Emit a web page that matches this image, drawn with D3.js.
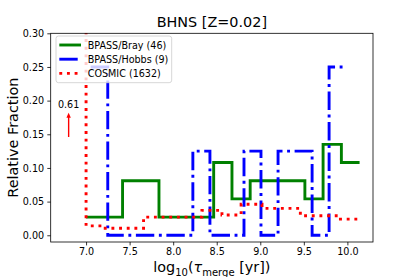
<!DOCTYPE html>
<html><head><meta charset="utf-8">
<script src="https://cdn.jsdelivr.net/npm/d3@7"></script>
<style>body{margin:0;background:#fff}svg{display:block}text{font-family:"DejaVu Sans",sans-serif;fill:#000}</style>
</head><body><svg id="c" width="415" height="277"></svg>
<script>
// ---- data ----
const brayEdges = [7.0, 7.209, 7.419, 7.628, 7.837, 8.047, 8.256, 8.465, 8.675, 8.884, 9.093, 9.303, 9.512, 9.721, 9.931, 10.14];
const brayValues = [0.027, 0.027, 0.081, 0.081, 0.027, 0.027, 0.027, 0.108, 0.054, 0.081, 0.081, 0.081, 0.054, 0.135, 0.108];
const hobbsEdges = [7.053, 7.249, 8.226, 8.422, 8.813, 9.008, 9.204, 9.595, 9.790, 9.986];
const hobbsValues = [0.25, 0.0, 0.125, 0.0, 0.125, 0.0, 0.125, 0.0, 0.25];
const cosmicEdges = [7.0, 7.0, 7.2, 7.66, 8.33, 8.56, 8.78, 9.02, 9.46, 9.92, 10.14];
const cosmicValues = [0.61, 0.014, 0.0105, 0.027, 0.037, 0.030, 0.046, 0.040, 0.029, 0.024];
const seriesNames = ["BPASS/Bray (46)", "BPASS/Hobbs (9)", "COSMIC (1632)"];
const xTicks = [7.0, 7.5, 8.0, 8.5, 9.0, 9.5, 10.0];
const yTicks = [0.00, 0.05, 0.10, 0.15, 0.20, 0.25, 0.30];
const annotation = {x: 6.8, yTail: 0.146, yTip: 0.182, yText: 0.189, label: "0.61"};
const title = "BHNS [Z=0.02]";

// ---- layout ----
const L = 50.7, R = 373, T = 33.3, B = 242;
const svg = d3.select("#c");
const x = d3.scaleLinear().domain([6.594, 10.294]).range([L, R]);
const y = d3.scaleLinear().domain([-0.01, 0.30]).range([B, T]);

svg.append("defs").append("clipPath").attr("id", "clip")
  .append("rect").attr("x", L).attr("y", T).attr("width", R - L).attr("height", B - T);

function stepPoints(edges, values) {
  const pts = values.map((v, i) => [edges[i], v]);
  pts.push([edges[edges.length - 1], values[values.length - 1]]);
  return pts;
}
const line = d3.line().x(d => x(d[0])).y(d => y(d[1])).curve(d3.curveStepAfter);
const g = svg.append("g").attr("clip-path", "url(#clip)");

const styles = [
  {color: "#008000", dash: null},
  {color: "#0000ff", dash: "18.4,4.6,2.9,4.6"},
  {color: "#ff0000", dash: "2.9,4.76"}
];
g.append("path").attr("d", line(stepPoints(brayEdges, brayValues)))
  .attr("fill", "none").attr("stroke", styles[0].color).attr("stroke-width", 2.9);
g.append("path").attr("d", line(stepPoints(hobbsEdges, hobbsValues)))
  .attr("fill", "none").attr("stroke", styles[1].color).attr("stroke-width", 2.9)
  .attr("stroke-dasharray", styles[1].dash);
g.append("path").attr("d", line(stepPoints(cosmicEdges, cosmicValues)))
  .attr("fill", "none").attr("stroke", styles[2].color).attr("stroke-width", 2.9)
  .attr("stroke-dasharray", styles[2].dash);

// ---- axes ----
const xAxis = svg.append("g").attr("transform", `translate(0,${B})`)
  .call(d3.axisBottom(x).tickValues(xTicks).tickFormat(d3.format(".1f")).tickSize(3.4).tickPadding(3.2));
const yAxis = svg.append("g").attr("transform", `translate(${L},0)`)
  .call(d3.axisLeft(y).tickValues(yTicks).tickFormat(d3.format(".2f")).tickSize(3.4).tickPadding(3.2));
[xAxis, yAxis].forEach(a => {
  a.select(".domain").remove();
  a.selectAll("line").attr("stroke", "#000").attr("stroke-width", 0.8);
  a.selectAll("text").attr("font-size", 9.6).attr("font-family", "DejaVu Sans").attr("fill", "#000");
});
svg.append("rect").attr("x", L).attr("y", T).attr("width", R - L).attr("height", B - T)
  .attr("fill", "none").attr("stroke", "#000").attr("stroke-width", 0.8);

// title
svg.append("text").attr("x", (L + R) / 2).attr("y", 27.3).attr("text-anchor", "middle")
  .attr("font-size", 14.4).text(title);

// y label
svg.append("text").attr("transform", `translate(18,${(T + B) / 2}) rotate(-90)`)
  .attr("text-anchor", "middle").attr("font-size", 14.4).text("Relative Fraction");

// x label
const xl = svg.append("text").attr("x", (L + R) / 2).attr("y", 272.3).attr("text-anchor", "middle").attr("font-size", 14.4);
xl.append("tspan").text("log");
xl.append("tspan").attr("font-size", 10).attr("dy", 3.5).text("10");
xl.append("tspan").attr("dy", -3.5).text("(");
xl.append("tspan").attr("font-style", "italic").text("τ");
xl.append("tspan").attr("font-size", 10).attr("dy", 3.5).text("merge");
xl.append("tspan").attr("dy", -3.5).text(" [yr])");

// annotation arrow
const ax = x(annotation.x);
svg.append("line").attr("x1", ax).attr("x2", ax).attr("y1", y(annotation.yTail)).attr("y2", y(annotation.yTip) + 4)
  .attr("stroke", "#ff0000").attr("stroke-width", 1.4);
svg.append("path").attr("d", `M${ax},${y(annotation.yTip)} L${ax - 2.2},${y(annotation.yTip) + 5} L${ax + 2.2},${y(annotation.yTip) + 5} Z`)
  .attr("fill", "#ff0000");
svg.append("text").attr("x", ax).attr("y", y(annotation.yText)).attr("text-anchor", "middle")
  .attr("font-size", 9.6).text(annotation.label);

// legend
const lg = svg.append("g");
lg.append("rect").attr("x", 56).attr("y", 36).attr("width", 115.7).attr("height", 46.7).attr("rx", 2.5)
  .attr("fill", "#fff").attr("fill-opacity", 0.8).attr("stroke", "#cccccc").attr("stroke-width", 0.8);
seriesNames.forEach((name, i) => {
  const yy = 45 + i * 14.2;
  lg.append("line").attr("x1", 59.3).attr("x2", 81).attr("y1", yy).attr("y2", yy)
    .attr("stroke", styles[i].color).attr("stroke-width", 2.9)
    .attr("stroke-dasharray", styles[i].dash);
  lg.append("text").attr("x", 87.7).attr("y", yy + 3.5).attr("font-size", 9.6).text(name);
});
</script></body></html>
